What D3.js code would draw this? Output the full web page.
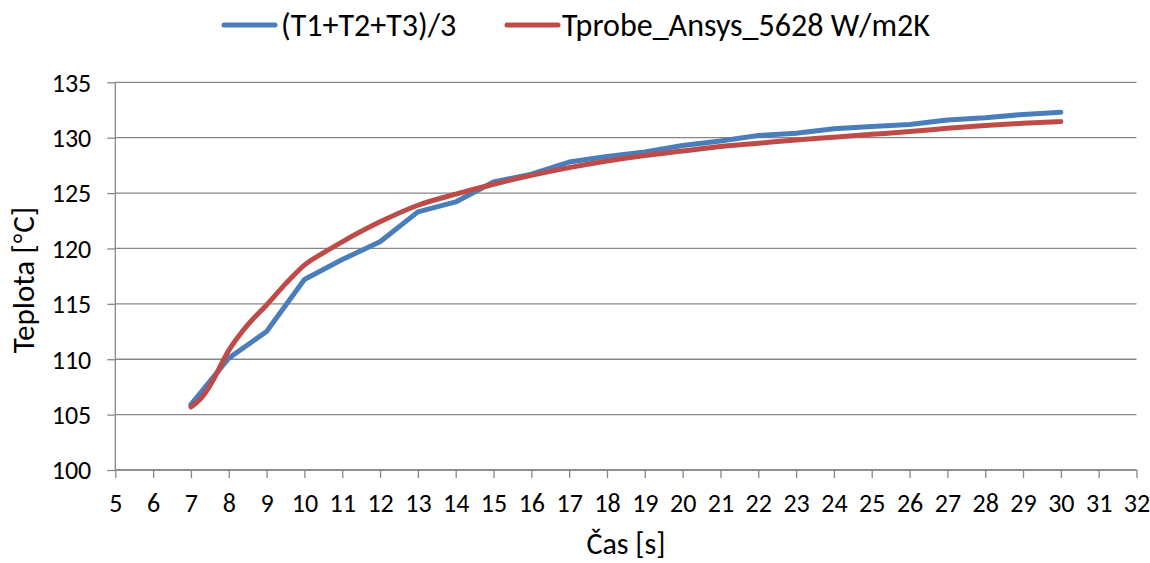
<!DOCTYPE html>
<html><head><meta charset="utf-8">
<script src="https://cdn.jsdelivr.net/npm/d3@7"></script>
<style>
body{margin:0;background:#fff;}
text{font-family:Carlito,"Liberation Sans Narrow","DejaVu Sans Condensed",sans-serif;fill:#000;}
</style></head><body>
<svg id="c" width="1150" height="563"></svg>
<script>
const seriesNames = ["(T1+T2+T3)/3", "Tprobe_Ansys_5628 W/m2K"];
const blueTime = [7,8,9,10,11,12,13,14,15,16,17,18,19,20,21,22,23,24,25,26,27,28,29,30];
const blueTemp = [105.9,110.1,112.5,117.2,119.0,120.6,123.3,124.2,126.0,126.7,127.8,128.3,128.7,129.3,129.7,130.2,130.4,130.8,131.0,131.2,131.6,131.8,132.1,132.3];
const redTime = [7,7.25,7.5,8,8.5,9,9.5,10,10.5,11,12,13,14,15,16,17,18,19,20,21,22,23,24,25,26,27,28,29,30];
const redTemp = [105.7,106.4,107.6,110.8,113.1,114.9,116.8,118.5,119.6,120.6,122.4,123.9,124.9,125.8,126.6,127.3,127.9,128.4,128.8,129.2,129.5,129.8,130.05,130.3,130.55,130.85,131.1,131.3,131.45];
const xTicks = d3.range(5,33,1);
const yTicks = [100,105,110,115,120,125,130,135];
const colors = ["#4a7ebb","#be4b48"];
const FONT = 'Carlito,"Liberation Sans Narrow","DejaVu Sans Condensed",sans-serif';

const svg = d3.select("#c");
const L=115.3, R=1136.5, T=82.3, B=470;
const x = d3.scaleLinear().domain([5,32]).range([L,R]);
const y = d3.scaleLinear().domain([100,135]).range([B,T]);

// gridlines
svg.append("g").selectAll("line").data(yTicks).join("line")
  .attr("x1",L).attr("x2",R).attr("y1",d=>y(d)).attr("y2",d=>y(d))
  .attr("stroke","#878787").attr("stroke-width",1.3);

// y axis
const ya = svg.append("g").attr("transform",`translate(${L},0)`)
  .call(d3.axisLeft(y).tickValues(yTicks).tickSize(8).tickPadding(16));
ya.select(".domain").attr("stroke","#878787").attr("stroke-width",1.3).attr("d",`M-0,${T}V${B}`);
ya.selectAll(".tick line").attr("stroke","#878787").attr("stroke-width",1.3);
ya.selectAll("text").attr("font-size",26).attr("dy","0.34em").style("font-family",FONT);

// x axis
const xa = svg.append("g").attr("transform",`translate(0,${B})`)
  .call(d3.axisBottom(x).tickValues(xTicks).tickFormat(d3.format("d")).tickSize(8).tickPadding(16));
xa.select(".domain").attr("stroke","#878787").attr("stroke-width",1.3).attr("d",`M${L},0H${R}`);
xa.selectAll(".tick line").attr("stroke","#878787").attr("stroke-width",1.3);
xa.selectAll("text").attr("font-size",26).style("font-family",FONT);

// lines
const line = d3.line().x(d=>x(d[0])).y(d=>y(d[1]));
svg.append("path").datum(blueTime.map((t,i)=>[t,blueTemp[i]]))
  .attr("d",line.curve(d3.curveLinear)).attr("fill","none").attr("stroke",colors[0])
  .attr("stroke-width",5).attr("stroke-linecap","round").attr("stroke-linejoin","round");
svg.append("path").datum(redTime.map((t,i)=>[t,redTemp[i]]))
  .attr("d",d3.line().x(d=>x(d[0])).y(d=>y(d[1])).curve(d3.curveMonotoneX)).attr("fill","none").attr("stroke",colors[1])
  .attr("stroke-width",5).attr("stroke-linecap","round").attr("stroke-linejoin","round");

// axis titles
svg.append("text").attr("x",626).attr("y",554).attr("text-anchor","middle").attr("font-size",30).text("Čas [s]");
const yt = svg.append("text").attr("transform","translate(34,280) rotate(-90)").attr("text-anchor","middle").attr("font-size",31);
yt.append("tspan").text("Teplota [");
yt.append("tspan").style("font-family",'"Open Sans","DejaVu Sans",sans-serif').attr("font-size",27).text("°");
yt.append("tspan").text("C]");

// legend
const leg = [{x1:224,x2:275,tx:281},{x1:507,x2:558,tx:562}];
leg.forEach((l,i)=>{
  svg.append("line").attr("x1",l.x1).attr("x2",l.x2).attr("y1",25).attr("y2",25)
    .attr("stroke",colors[i]).attr("stroke-width",5).attr("stroke-linecap","round");
  svg.append("text").attr("x",l.tx).attr("y",36).attr("font-size",32).text(seriesNames[i]);
});
</script></body></html>
